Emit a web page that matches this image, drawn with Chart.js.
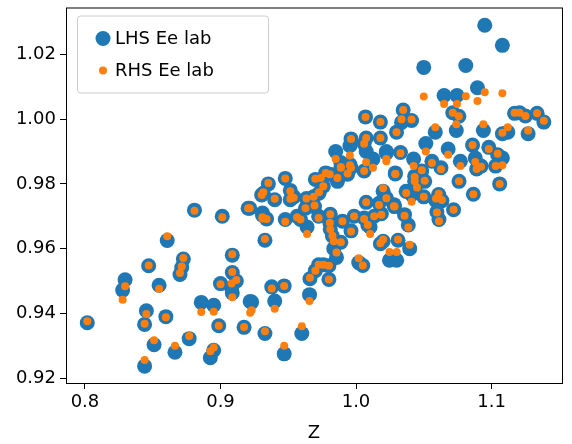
<!DOCTYPE html>
<html><head><meta charset="utf-8">
<script src="https://cdn.jsdelivr.net/npm/chart.js@4.4.0/dist/chart.umd.min.js"></script>
<style>html,body{margin:0;padding:0;background:#fff}#w{width:572px;height:444px}</style>
</head><body><div id="w"><canvas id="c"></canvas></div>
<script>
const seriesLabels = ["LHS Ee lab", "RHS Ee lab"];
const xTicks = [0.8, 0.9, 1.0, 1.1];
const yTicks = [0.92, 0.94, 0.96, 0.98, 1.00, 1.02];
// [Z, LHS, RHS]
const points = [
[1.095,1.029,1.0083],[1.108,1.0228,1.008],[1.081,1.0166,1.0071],[1.0896,1.0097,1.0056],[1.050,1.016,1.007],
[1.065,1.0073,1.0047],[1.0745,1.0073,1.0047],[1.0714,1.002,1.002],[1.0759,1.0009,1.0009],[1.074,0.9965,0.9984],
[1.0585,0.996,0.9975],[1.0348,1.0028,1.0028],[1.041,0.9996,0.9999],[1.0299,0.996,0.996],[1.094,0.9965,0.9984],
[1.117,1.0018,1.002],[1.1207,1.002,1.002],[1.125,1.001,1.001],[1.1336,1.0018,1.0018],[1.1386,0.9991,0.9995],
[1.112,0.996,0.9975],[1.108,0.9955,0.9958],[1.127,0.9955,0.9965],[1.0515,0.9925,0.990],[1.068,0.9908,0.989],
[1.086,0.992,0.992],[1.098,0.9913,0.9908],[1.1045,0.989,0.9893],[1.108,0.988,0.9858],[1.088,0.988,0.9868],
[1.0923,0.9855,0.9853],[1.089,0.9846,0.9846],[1.103,0.9855,0.9855],[1.077,0.987,0.9855],[1.076,0.9808,0.9808],
[1.106,0.980,0.980],[1.0866,0.9768,0.9768],[1.056,0.987,0.9865],[1.0627,0.985,0.9845],[1.0425,0.9877,0.9855],
[1.0224,0.9896,0.987],[1.0485,0.984,0.9842],[1.0433,0.9824,0.9821],[1.0507,0.9808,0.981],[1.029,0.9834,0.9831],
[1.045,0.980,0.9789],[1.041,0.9767,0.9745],[1.050,0.976,0.976],[1.061,0.9767,0.977],[1.059,0.9748,0.9755],
[1.0634,0.9748,0.975],[1.028,0.9736,0.9731],[1.0597,0.9714,0.9712],[1.072,0.972,0.972],[1.0612,0.969,0.9685],
[1.020,0.9623,0.9628],[1.0433,0.9808,0.9808],
[0.9328,0.9626,0.963],[0.9378,0.9482,0.9477],[0.947,0.9485,0.9485],[0.940,0.9438,0.9414],[0.923,0.9435,0.941],
[0.9328,0.9338,0.9345],[0.960,0.9338,0.936],[0.947,0.9275,0.930],[0.9657,0.9458,0.9438],[0.966,0.9507,0.951],
[0.970,0.9532,0.9532],[0.9724,0.955,0.955],[0.976,0.955,0.955],[0.980,0.9547,0.9547],[0.980,0.9505,0.9505],
[1.002,0.9557,0.957],[1.005,0.9548,0.9548],[1.0247,0.9564,0.959],[1.030,0.9564,0.959],[0.9856,0.9573,0.9588],
[0.9836,0.960,0.9623],[0.9888,0.962,0.962],[0.9826,0.9639,0.964],[0.9963,0.9655,0.9653],[1.018,0.9615,0.9617],
[1.031,0.9626,0.9628],[1.0396,0.960,0.9612],[0.981,0.966,0.966],[0.9807,0.968,0.968],[0.981,0.9706,0.9706],
[0.990,0.9685,0.9685],[0.9986,0.970,0.970],[1.006,0.9695,0.9692],[1.0104,0.9667,0.9645],[1.0087,0.9673,0.9673],
[1.0134,0.970,0.970],[1.0187,0.9708,0.9705],[1.0284,0.973,0.973],[1.0358,0.9705,0.9702],[1.0386,0.9673,0.9665],
[1.0224,0.9756,0.9756],[1.017,0.974,0.9735],[1.0075,0.9743,0.9743],[1.020,0.9777,0.9787],[1.037,0.9777,0.9772],
[1.029,0.9831,0.9831],[1.006,0.984,0.984],[0.9963,0.985,0.985],[0.9888,0.985,0.985],[0.9938,0.983,0.9832],
[0.9863,0.9808,0.9818],[0.9806,0.983,0.983],[0.9776,0.9834,0.9834],[0.974,0.9814,0.9818],[0.9759,0.9793,0.9793],
[0.970,0.9814,0.9816],[0.9727,0.9771,0.9774],[0.9687,0.976,0.976],[0.9634,0.9755,0.9755],[0.9694,0.973,0.9733],
[0.9724,0.970,0.9695],[0.954,0.976,0.9757],[0.9515,0.9751,0.9754],[0.9515,0.978,0.9777],[0.9478,0.9817,0.9817],
[0.9353,0.980,0.9803],[0.9316,0.9771,0.9774],[0.940,0.9751,0.9754],[0.9216,0.9725,0.9725],[0.931,0.971,0.9693],
[0.934,0.9692,0.9692],[0.9478,0.969,0.9683],[0.9565,0.970,0.9697],[0.959,0.969,0.969],[0.9639,0.9667,0.9645],
[0.9627,0.9725,0.9725],[0.985,0.990,0.9877],[0.9955,0.9918,0.9888],[1.0075,0.990,0.9867],[1.0125,0.9877,0.985],
[1.0224,0.990,0.9877],[1.0328,0.9897,0.9895],[1.006,0.9924,0.9924],[0.9888,0.9866,0.9852],[0.9955,0.986,0.9858],
[1.007,1.0007,1.0007],[1.018,0.9991,0.9991],[1.0336,0.999,1.000],[0.9963,0.9939,0.9939],[1.0075,0.9942,0.9942],
[1.018,0.9942,0.9942],
[0.8017,0.9371,0.9376],[0.8296,0.9504,0.9484],[0.8278,0.9472,0.9442],[0.847,0.9547,0.9548],[0.8547,0.9487,0.9476],
[0.8453,0.9408,0.9398],[0.844,0.9366,0.9368],[0.8597,0.939,0.9388],[0.851,0.9303,0.9317],[0.844,0.9237,0.9256],
[0.8664,0.928,0.930],[0.8769,0.9322,0.933],[0.8607,0.9625,0.9638],[0.8701,0.952,0.9525],[0.8714,0.9542,0.9545],
[0.8726,0.9568,0.9571],[0.8808,0.9719,0.9717],[0.9013,0.970,0.9697],[0.9204,0.9725,0.9725],[0.9304,0.9766,0.9766],
[0.931,0.9703,0.9697],[0.9087,0.958,0.9583],[0.9087,0.9526,0.9528],[0.9117,0.950,0.9503],[0.9082,0.9479,0.9492],
[0.9087,0.9463,0.945],[0.900,0.9492,0.949],[0.8858,0.9434,0.9404],[0.895,0.9425,0.9405],[0.9219,0.9437,0.9402],
[0.8987,0.9362,0.9362],[0.9174,0.9357,0.9358],[0.895,0.9286,0.9295],[0.8925,0.9263,0.9283]
];
const zVals = points.map(p => p[0]);
const lhsVals = points.map(p => p[1]);
const rhsVals = points.map(p => p[2]);

const frame = {
  id: 'frame',
  afterDraw(chart) {
    const {ctx, chartArea: a} = chart;
    ctx.save();
    ctx.strokeStyle = '#000'; ctx.lineWidth = 1;
    ctx.strokeRect(a.left + 0.5, a.top + 0.5, a.right - a.left, a.bottom - a.top);
    const x0 = a.left + 11, y0 = a.top + 8, w = 191, h = 77;
    ctx.fillStyle = 'rgba(255,255,255,0.8)';
    ctx.strokeStyle = '#cccccc';
    ctx.beginPath(); ctx.roundRect(x0 + 0.5, y0 + 0.5, w, h, 3); ctx.fill(); ctx.stroke();
    const ds = chart.data.datasets;
    ctx.font = '18px "DejaVu Sans"'; ctx.textBaseline = 'middle';
    [[0, y0 + 23], [1, y0 + 55]].forEach(([i, yy]) => {
      ctx.fillStyle = ds[i].backgroundColor;
      ctx.beginPath(); ctx.arc(x0 + 26, yy, ds[i].pointRadius, 0, Math.PI * 2); ctx.fill();
      ctx.fillStyle = '#000';
      ctx.fillText(ds[i].label, x0 + 38, yy + 1);
    });
    ctx.restore();
  }
};

new Chart(document.getElementById('c'), {
  type: 'scatter',
  data: {
    datasets: [
      { label: seriesLabels[0], order: 2, data: zVals.map((x, i) => ({x, y: lhsVals[i]})), backgroundColor: '#1f77b4', borderWidth: 0, pointRadius: 7.5, pointHoverRadius: 7.5 },
      { label: seriesLabels[1], order: 1, data: zVals.map((x, i) => ({x, y: rhsVals[i]})), backgroundColor: '#ff7f0e', borderWidth: 0, pointRadius: 4, pointHoverRadius: 4 }
    ]
  },
  options: {
    responsive: true, maintainAspectRatio: false, animation: false,
    devicePixelRatio: 1,
    layout: { padding: { top: 7, right: 10, left: 0, bottom: 0 } },
    plugins: { legend: { display: false }, tooltip: { enabled: false } },
    scales: {
      x: {
        type: 'linear', min: 0.786, max: 1.152,
        afterBuildTicks: ax => { ax.ticks = xTicks.map(v => ({value: v})); },
        afterFit: ax => { ax.height = 61; ax.paddingRight = 0; ax.paddingLeft = 0; },
        ticks: { color: '#000', font: { size: 18, family: 'DejaVu Sans' }, padding: 3, maxRotation: 0,
                 callback: v => v.toFixed(1) },
        grid: { display: true, drawOnChartArea: false, drawTicks: true, tickLength: 6, color: '#000' },
        border: { display: false },
        title: { display: true, text: 'Z', color: '#000', font: { size: 18, family: 'DejaVu Sans' }, padding: { top: 0, bottom: 0 } }
      },
      y: {
        type: 'linear', min: 0.9185, max: 1.0345,
        afterBuildTicks: ax => { ax.ticks = yTicks.map(v => ({value: v})); },
        afterFit: ax => { ax.width = 66; ax.paddingTop = 0; ax.paddingBottom = 0; },
        ticks: { color: '#000', font: { size: 18, family: 'DejaVu Sans' }, padding: 4,
                 callback: v => v.toFixed(2) },
        grid: { display: true, drawOnChartArea: false, drawTicks: true, tickLength: 6, color: '#000' },
        border: { display: false }
      }
    }
  },
  plugins: [frame]
});
</script></body></html>
